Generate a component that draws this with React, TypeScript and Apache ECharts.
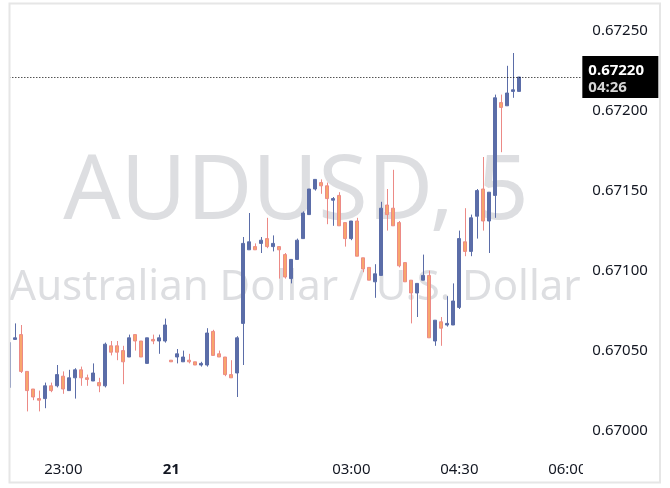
import React, { useEffect, useRef } from "react";
import * as echarts from "echarts";

// ---- data (5-minute bars) ----
const opens = [
  0.67026, 0.67056, 0.67059, 0.67036, 0.67025, 0.67019, 0.67019, 0.67027, 0.67027, 0.67033,
  0.67024, 0.67032, 0.67037, 0.67032, 0.6703, 0.67029, 0.67027, 0.67052, 0.67052, 0.67049,
  0.67045, 0.67059, 0.67055, 0.67041, 0.67056, 0.67055, 0.67055, 0.67043, 0.67045, 0.67042,
  0.67043, 0.67042, 0.6704, 0.6704, 0.67061, 0.67047, 0.67045, 0.67034, 0.67035, 0.67066,
  0.67112, 0.67114, 0.67116, 0.67119, 0.67114, 0.67114, 0.67109, 0.67094, 0.67106, 0.67119,
  0.67134, 0.6715, 0.67154, 0.67152, 0.67143, 0.67146, 0.67129, 0.67119, 0.6713, 0.67107,
  0.67101, 0.67092, 0.67096, 0.6714, 0.67138, 0.67129, 0.67104, 0.67093, 0.67085, 0.67093,
  0.67096, 0.67055, 0.67067, 0.67065, 0.67065, 0.67076, 0.67117, 0.67111, 0.67133, 0.6715,
  0.6713, 0.67146, 0.67204, 0.67202, 0.67211, 0.67211,
];
const closes = [
  0.67054, 0.67057, 0.67036, 0.67024, 0.6702, 0.67018, 0.67027, 0.67024, 0.67034, 0.67025,
  0.67032, 0.67037, 0.67032, 0.67031, 0.67035, 0.67027, 0.67053, 0.67048, 0.67048, 0.67042,
  0.67057, 0.67055, 0.67045, 0.67057, 0.67055, 0.67057, 0.67065, 0.67042, 0.67047, 0.67045,
  0.67042, 0.6704, 0.67041, 0.6706, 0.67046, 0.67045, 0.67034, 0.67032, 0.67057, 0.67116,
  0.67117, 0.67112, 0.67118, 0.67114, 0.67116, 0.67112, 0.67095, 0.67106, 0.67118, 0.67135,
  0.6715, 0.67156, 0.67152, 0.67144, 0.67144, 0.67127, 0.67119, 0.6713, 0.67108, 0.671,
  0.67093, 0.67097, 0.67138, 0.67134, 0.67127, 0.67102, 0.67092, 0.67085, 0.67091, 0.67096,
  0.67057, 0.67068, 0.67063, 0.67066, 0.6708, 0.67119, 0.67111, 0.67132, 0.67149, 0.6713,
  0.67148, 0.67207, 0.67201, 0.6721, 0.67212, 0.6722,
];
const lows = [
  0.67024, 0.67056, 0.67035, 0.67011, 0.67018, 0.67011, 0.67013, 0.67023, 0.67026, 0.67022,
  0.67024, 0.67019, 0.67027, 0.67027, 0.6703, 0.67023, 0.67026, 0.67046, 0.67043, 0.67028,
  0.67045, 0.67049, 0.67045, 0.67041, 0.67053, 0.67047, 0.67054, 0.67042, 0.67041, 0.67042,
  0.67041, 0.6704, 0.67039, 0.67039, 0.67046, 0.67045, 0.67033, 0.67032, 0.6702, 0.6704,
  0.67112, 0.67112, 0.6711, 0.67113, 0.67111, 0.67094, 0.67094, 0.67091, 0.67106, 0.67119,
  0.67134, 0.67149, 0.67147, 0.67128, 0.67127, 0.67127, 0.67114, 0.67118, 0.67108, 0.67098,
  0.67093, 0.67082, 0.67096, 0.67124, 0.67127, 0.67101, 0.67092, 0.67066, 0.6707, 0.67093,
  0.67057, 0.67052, 0.67052, 0.67064, 0.67065, 0.67075, 0.67108, 0.67108, 0.67119, 0.67124,
  0.6711, 0.67132, 0.67173, 0.67202, 0.67207, 0.67211,
];
const highs = [
  0.67056, 0.67066, 0.67065, 0.67036, 0.67025, 0.67024, 0.67029, 0.67029, 0.6704, 0.67036,
  0.67037, 0.67038, 0.67039, 0.67034, 0.67041, 0.67032, 0.67054, 0.67055, 0.67055, 0.67052,
  0.67059, 0.67059, 0.67055, 0.67057, 0.67059, 0.67059, 0.67069, 0.67043, 0.6705, 0.67049,
  0.67047, 0.67042, 0.67042, 0.67063, 0.67062, 0.67049, 0.67045, 0.67043, 0.67058, 0.6712,
  0.67135, 0.67116, 0.6712, 0.67132, 0.67121, 0.67114, 0.6711, 0.67106, 0.67119, 0.67136,
  0.6715, 0.67156, 0.67156, 0.67154, 0.67145, 0.67148, 0.67129, 0.6713, 0.67132, 0.67107,
  0.67101, 0.67103, 0.67142, 0.6715, 0.67162, 0.6713, 0.67104, 0.67093, 0.67091, 0.67109,
  0.67099, 0.67068, 0.6707, 0.67083, 0.67091, 0.67124, 0.67138, 0.67134, 0.6715, 0.6717,
  0.67148, 0.67209, 0.67209, 0.67227, 0.67235, 0.6722,
];

// time axis: 5-minute slots starting 22:15, including empty slots to the right
const firstSlotMinutes = 22 * 60 + 15;
const slotCount = 96;
const times: string[] = [];
for (let i = 0; i < slotCount; i++) {
  const m = (firstSlotMinutes + i * 5) % (24 * 60);
  times.push(String(Math.floor(m / 60)).padStart(2, "0") + ":" + String(m % 60).padStart(2, "0"));
}
const timeTickValues = ["23:00", "00:30", "03:00", "04:30", "06:00"];
const timeTickLabels = ["23:00", "21", "03:00", "04:30", "06:00"];
const dayTick = "00:30";

const priceTicks = [0.67, 0.6705, 0.671, 0.6715, 0.672, 0.6725];
const priceMin = 0.66985625;
const priceMax = 0.67265625;

const symbolText = "AUDUSD, 5";
const descriptionText = "Australian Dollar / U.S. Dollar";
const countdown = "04:26";

const FONT = '"Noto Sans", sans-serif';
const TEXT = "#131722";

export default function App() {
  const ref = useRef<HTMLDivElement>(null);
  useEffect(() => {
    if (!ref.current) return;
    const chart = echarts.init(ref.current, null, { renderer: "svg" });
    const data = opens.map((o, i) => [o, closes[i], lows[i], highs[i]]);
    const lastClose = closes[closes.length - 1];
    chart.setOption({
      animation: false,
      grid: { left: 6.33, right: 87.67, top: 4, bottom: 36, containLabel: false },
      xAxis: {
        type: "category",
        data: times,
        boundaryGap: true,
        axisLine: { show: false },
        axisTick: { show: false },
        splitLine: { show: false },
        axisLabel: {
          interval: (_i: number, v: string) => timeTickValues.indexOf(v) >= 0,
          formatter: (v: string) => {
            const idx = timeTickValues.indexOf(v);
            if (idx < 0) return "";
            return v === dayTick ? "{b|" + timeTickLabels[idx] + "}" : timeTickLabels[idx];
          },
          margin: 8,
          color: TEXT,
          fontSize: 15,
          fontFamily: FONT,
          rich: { b: { fontWeight: "bold", fontSize: 15, fontFamily: FONT, color: TEXT } },
        },
      },
      yAxis: {
        type: "value",
        position: "right",
        min: priceMin,
        max: priceMax,
        axisLine: { show: false },
        axisTick: { show: false },
        splitLine: { show: false },
        axisLabel: {
          customValues: priceTicks,
          formatter: (v: number) => v.toFixed(5),
          margin: 10,
          color: TEXT,
          fontSize: 15,
          fontFamily: FONT,
        },
      },
      series: [
        {
          type: "candlestick",
          data,
          barWidth: 3.6,
          itemStyle: {
            color: "#5b6da8",
            borderColor: "#5b6da8",
            color0: "#f8a66c",
            borderColor0: "#ec8a86",
            borderWidth: 1,
          },
          markLine: {
            silent: true,
            precision: 5,
            symbol: ["none", "none"],
            animation: false,
            lineStyle: { type: [1, 2], color: "#000", width: 1 },
            label: {
              position: "end",
              distance: 0,
              backgroundColor: "#000",
              padding: [4, 6, 4, 6],
              width: 64,
              align: "left",
              formatter: (p: any) => "{p|" + Number(p.value).toFixed(5) + "}\n{t|" + countdown + "}",
              rich: {
                p: { color: "#fff", fontWeight: "bold", fontSize: 15, fontFamily: FONT, lineHeight: 17 },
                t: { color: "#d6d6d6", fontWeight: "bold", fontSize: 15, fontFamily: FONT, lineHeight: 17 },
              },
            },
            emphasis: { disabled: true },
            data: [{ yAxis: lastClose }],
          },
        },
      ],
      graphic: [
        {
          type: "text",
          z: 1,
          style: {
            text: symbolText,
            x: 296,
            y: 184,
            textAlign: "center",
            textVerticalAlign: "middle",
            font: "90px " + FONT,
            fill: "rgba(120,123,134,0.25)",
          },
        },
        {
          type: "text",
          z: 1,
          style: {
            text: descriptionText,
            x: 295,
            y: 283,
            textAlign: "center",
            textVerticalAlign: "middle",
            font: "42px " + FONT,
            fill: "rgba(120,123,134,0.25)",
          },
        },
        {
          type: "rect",
          z: 100,
          shape: { x: 0, y: 0, width: 10, height: 488 },
          style: { fill: "#fff" },
        },
        {
          type: "rect",
          z: 100,
          shape: { x: 583, y: 450, width: 87, height: 38 },
          style: { fill: "#fff" },
        },
        {
          type: "rect",
          z: 101,
          shape: { x: 9.5, y: 3.5, width: 650.5, height: 479 },
          style: { fill: "none", stroke: "#e6e6e6", lineWidth: 2 },
        },
      ],
    });
    return () => chart.dispose();
  }, []);
  return <div ref={ref} style={{ position: "fixed", left: 0, top: 0, width: 670, height: 488 }} />;
}
